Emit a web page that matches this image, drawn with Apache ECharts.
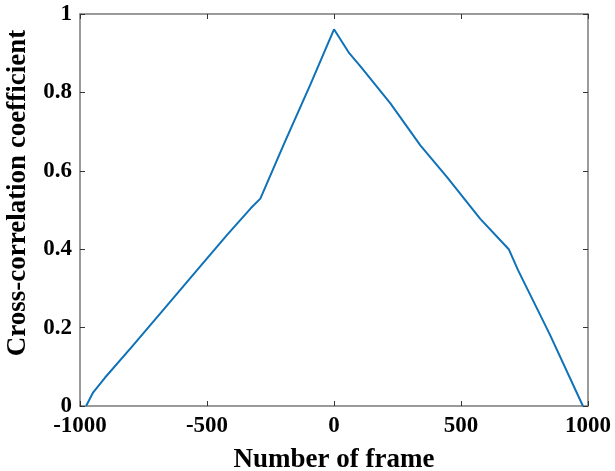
<!DOCTYPE html>
<html lang="en">
<head>
    <meta charset="UTF-8">
    <title>Cross-correlation coefficient</title>
    <style>
        * { margin: 0; padding: 0; }
        html, body { width: 100%; height: 100%; background: #fff; }
    </style>
    <script src="https://cdn.jsdelivr.net/npm/echarts@6/dist/echarts.min.js"></script>
</head>
<body>
    <div id="main" style="width:615px;height:471px;"></div>
<script>
    // values
    var frames = [-976, -948, -902, -797, -667, -540, -420, -327, -290, -196, -91, 0, 60, 105, 222, 340, 445, 575, 688, 725, 850, 980];
    var coeff = [0, 0.035, 0.072, 0.150, 0.249, 0.346, 0.437, 0.505, 0.529, 0.670, 0.823, 0.961, 0.900, 0.866, 0.772, 0.665, 0.584, 0.478, 0.400, 0.346, 0.182, 0];

    var xTicks = [-1000, -500, 0, 500, 1000];
    var yTicks = [0, 0.2, 0.4, 0.6, 0.8, 1];

    var font = '"Liberation Serif", "Times New Roman", serif';
    var boxColor = '#7a7a7a';

    function initChart() {
        var points = [];
        for (var i = 0; i < frames.length; i++) {
            points.push([frames[i], coeff[i]]);
        }

        var labelStyle = {
            color: '#000',
            fontFamily: font,
            fontWeight: 'bold',
            fontSize: 23
        };
        var boxLine = { show: true, onZero: false, lineStyle: { color: boxColor, width: 1.5 } };
        var tick = { show: true, inside: true, length: 5, lineStyle: { color: '#333' } };

        var option = {
            animation: false,
            grid: {
                left: 80,
                right: 27,
                top: 14,
                bottom: 65,
                containLabel: false,
                outerBoundsMode: 'none'
            },
            xAxis: [{
                type: 'value',
                min: xTicks[0],
                max: xTicks[xTicks.length - 1],
                interval: 500,
                name: 'Number of frame',
                nameLocation: 'middle',
                nameGap: 41,
                nameTextStyle: {
                    color: '#000',
                    fontFamily: font,
                    fontWeight: 'bold',
                    fontSize: 27
                },
                axisLine: boxLine,
                axisTick: tick,
                axisLabel: Object.assign({ margin: 9, formatter: function (v) { return String(v); } }, labelStyle),
                splitLine: { show: false }
            }, {
                type: 'value',
                position: 'top',
                min: xTicks[0],
                max: xTicks[xTicks.length - 1],
                interval: 500,
                axisLine: boxLine,
                axisTick: tick,
                axisLabel: { show: false },
                splitLine: { show: false }
            }],
            yAxis: [{
                type: 'value',
                min: yTicks[0],
                max: yTicks[yTicks.length - 1],
                interval: 0.2,
                name: 'Cross-correlation coefficient',
                nameLocation: 'middle',
                nameGap: 48,
                nameTextStyle: {
                    color: '#000',
                    fontFamily: font,
                    fontWeight: 'bold',
                    fontSize: 27,
                    padding: [0, 0, 0, 34]
                },
                axisLine: boxLine,
                axisTick: tick,
                axisLabel: Object.assign({ margin: 8 }, labelStyle),
                splitLine: { show: false }
            }, {
                type: 'value',
                position: 'right',
                min: yTicks[0],
                max: yTicks[yTicks.length - 1],
                interval: 0.2,
                axisLine: boxLine,
                axisTick: tick,
                axisLabel: { show: false },
                splitLine: { show: false }
            }],
            series: [{
                type: 'line',
                data: points,
                showSymbol: false,
                symbol: 'none',
                lineStyle: { color: '#0f72b8', width: 2 }
            }]
        };

        var myChart = echarts.init(document.getElementById('main'));
        myChart.setOption(option);
    }
    initChart();
</script>
</body>
</html>
